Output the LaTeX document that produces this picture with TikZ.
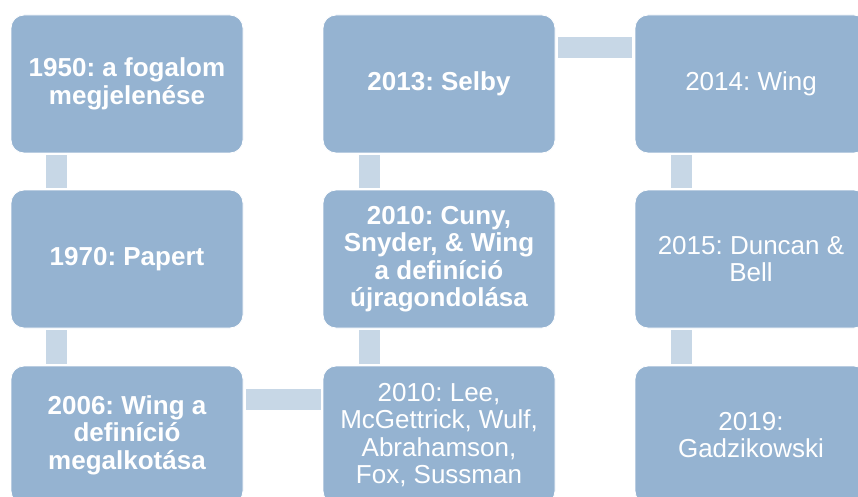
\documentclass[tikz,border=0pt]{standalone}
\usepackage{fontspec}
\setmainfont{Liberation Sans}
\frenchspacing
\definecolor{boxBlue}{HTML}{95B3D1}
\definecolor{linkBlue}{HTML}{C7D7E6}

\begin{document}
\begin{tikzpicture}[x=1pt,y=-1pt,
  box/.style={rectangle,rounded corners=13pt,fill=boxBlue,draw=white,line width=0.8pt,
    minimum width=232pt,minimum height=138pt,inner sep=4pt,align=center,text=white,
    font=\fontsize{26}{27.5}\selectfont},
  boldbox/.style={box,font=\fontsize{26}{27.5}\selectfont\bfseries},
  link/.style={linkBlue,line width=21pt}]
  \clip (0,0) rectangle (858,497);
  \fill[white] (0,0) rectangle (858,497);
  % first column
  \node[boldbox] (n1950) at (127,84) {1950: a fogalom\\megjelenése};
  \node[boldbox] (n1970) at (127,259) {1970: Papert};
  \node[boldbox] (n2006) at (127,435) {2006: Wing a\\definíció\\megalkotása};
  % second column
  \node[boldbox] (n2013) at (439,84) {2013: Selby};
  \node[boldbox] (n2010b) at (439,259) {2010: Cuny,\\Snyder, \& Wing\\a definíció\\újragondolása};
  \node[box] (n2010a) at (439,435) {2010: Lee,\\McGettrick, Wulf,\\Abrahamson,\\Fox, Sussman};
  % third column
  \node[box] (n2014) at (751,84) {2014: Wing};
  \node[box] (n2015) at (751,259) {2015: Duncan \&\\Bell};
  \node[box] (n2019) at (751,435) {2019:\\Gadzikowski};
  % connectors
  \draw[link] ([shift={(46,2)}]n1950.south west) -- ([shift={(46,-2)}]n1970.north west);
  \draw[link] ([shift={(46,2)}]n1970.south west) -- ([shift={(46,-2)}]n2006.north west);
  \draw[link] ([shift={(3,33.5)}]n2006.north east) -- ([shift={(-2,33.5)}]n2010a.north west);
  \draw[link] ([shift={(47,-2)}]n2010a.north west) -- ([shift={(47,2)}]n2010b.south west);
  \draw[link] ([shift={(47,-2)}]n2010b.north west) -- ([shift={(47,2)}]n2013.south west);
  \draw[link] ([shift={(3,32.5)}]n2013.north east) -- ([shift={(-3,32.5)}]n2014.north west);
  \draw[link] ([shift={(46.5,2)}]n2014.south west) -- ([shift={(46.5,-2)}]n2015.north west);
  \draw[link] ([shift={(46.5,2)}]n2015.south west) -- ([shift={(46.5,-2)}]n2019.north west);
\end{tikzpicture}
\end{document}
